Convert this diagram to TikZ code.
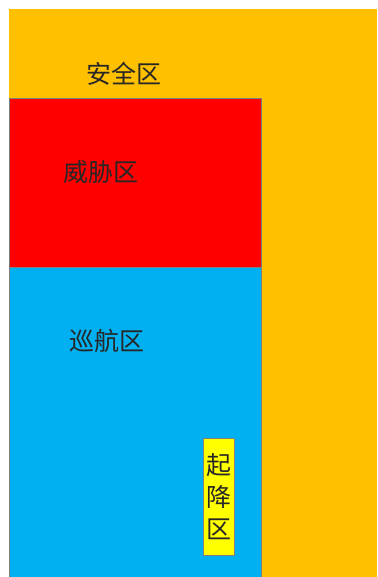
\documentclass[tikz,border=0pt]{standalone}
\usepackage{fontspec}
\setmainfont{Noto Sans CJK SC}
\usetikzlibrary{positioning}

\definecolor{safeorange}{HTML}{FFC000}
\definecolor{threatred}{HTML}{FF0000}
\definecolor{cruiseblue}{HTML}{00B0F0}
\definecolor{padyellow}{HTML}{FFFF00}
\definecolor{edgegray}{HTML}{7F7F7F}

\begin{document}
\begin{tikzpicture}[x=1pt, y=-1pt,
  zone/.style={draw=edgegray, line width=0.8pt, inner sep=0pt, outer sep=0pt, anchor=north west},
  lab/.style={font=\fontsize{25}{32}\selectfont, text=black!85, align=center}
]
\useasboundingbox (0,0) rectangle (377,577);
% zones
\node[zone, fill=safeorange, draw=none, minimum width=368pt, minimum height=568pt] (safe) at (9,9) {};
\node[zone, fill=threatred, minimum width=252pt, minimum height=169pt] (threat) at (9,98) {};
\node[zone, fill=cruiseblue, minimum width=252pt, minimum height=312pt] (cruise) at (9,267) {};
\node[zone, fill=padyellow, minimum width=31pt, minimum height=117pt] (pad) at (203,438) {};

% labels
\node[lab] (safelab) at (124,74) {安全区};
\node[lab] (threatlab) at (101,172) {威胁区};
\node[lab] (cruiselab) at (107,341) {巡航区};
\node[lab] (padlab) at (pad.center) {起\\降\\区};
\end{tikzpicture}
\end{document}
